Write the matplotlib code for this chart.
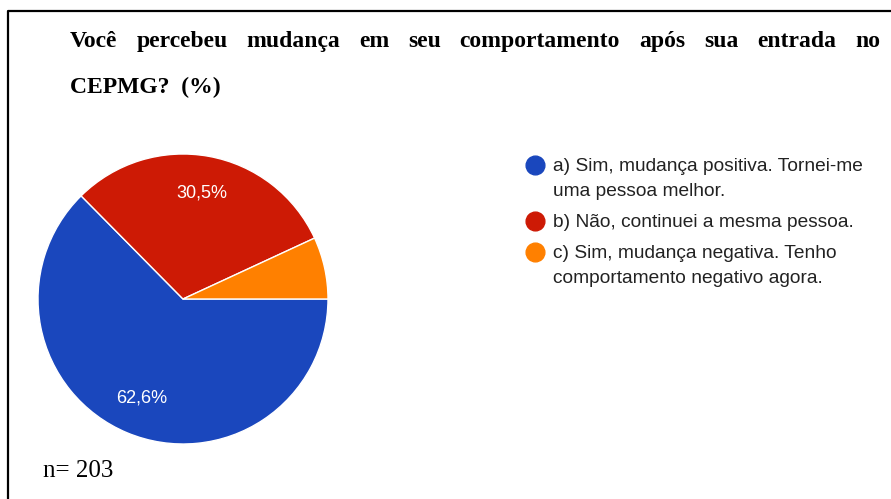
import matplotlib.pyplot as plt
from matplotlib.lines import Line2D

title_words = "Você percebeu mudança em seu comportamento após sua entrada no".split()
title_last = "CEPMG?  (%)"
labels = [
    "a) Sim, mudança positiva. Tornei-me\numa pessoa melhor.",
    "b) Não, continuei a mesma pessoa.",
    "c) Sim, mudança negativa. Tenho\ncomportamento negativo agora.",
]
values = [62.6, 30.5, 6.9]
colors = ['#1A47BD', '#CD1A05', '#FF8000']
n_total = 203

W, H = 891, 499
fig = plt.figure(figsize=(W / 100, H / 100), dpi=100)


def px(x, y):
    # pixel coords (from top-left) -> figure fraction
    return x / W, 1 - y / H


# frame (left and top border only, like the cropped screenshot)
fig.add_artist(Line2D([8 / W, 8 / W, 1], [0, 1 - 11 / H, 1 - 11 / H],
                      transform=fig.transFigure, color='black', lw=1.6))

# title, justified first line
serif = dict(family='Liberation Serif', fontweight='bold', fontsize=17, color='black')
renderer = fig.canvas.get_renderer()
widths = []
for w in title_words:
    t = fig.text(0, 0, w, **serif)
    widths.append(t.get_window_extent(renderer).width)
    t.remove()
x0, x1 = 70, 880
gap = (x1 - x0 - sum(widths)) / (len(title_words) - 1)
x = x0
for w, wd in zip(title_words, widths):
    fig.text(*px(x, 47), w, va='baseline', ha='left', **serif)
    x += wd + gap
fig.text(*px(70, 93), title_last, va='baseline', ha='left', **serif)

# pie
cx, cy, r = 183, 299, 145
ax = fig.add_axes([(cx - r) / W, (H - cy - r) / H, 2 * r / W, 2 * r / H])


def pct_label(p):
    return f"{p:.1f}%".replace('.', ',') if p > 10 else ''


wedges, texts, autotexts = ax.pie(
    values, colors=colors, startangle=0, counterclock=False,
    autopct=pct_label, pctdistance=0.74,
    wedgeprops=dict(edgecolor='white', linewidth=1),
    textprops=dict(color='white', fontsize=13, family='Liberation Sans'))
ax.set_xlim(-1, 1)
ax.set_ylim(-1, 1)
ax.set_aspect('equal')
ax.axis('off')

# legend, drawn by hand so the dot sits on the first line
y = 165
for lab, col in zip(labels, colors):
    fig.add_artist(Line2D([535 / W], [1 - y / H], marker='o', markersize=13.5,
                          color=col, transform=fig.transFigure))
    for i, line in enumerate(lab.split('\n')):
        fig.text(*px(553, y + 6 + 25 * i), line, va='baseline', ha='left',
                 fontsize=13.8, family='Liberation Sans', color='#222222')
    y += 25 * lab.count('\n') + 31

fig.text(*px(43, 477), f"n= {n_total}", family='Liberation Serif', fontsize=18,
         va='baseline', ha='left', color='black')

fig.savefig('out.png', dpi=100)
